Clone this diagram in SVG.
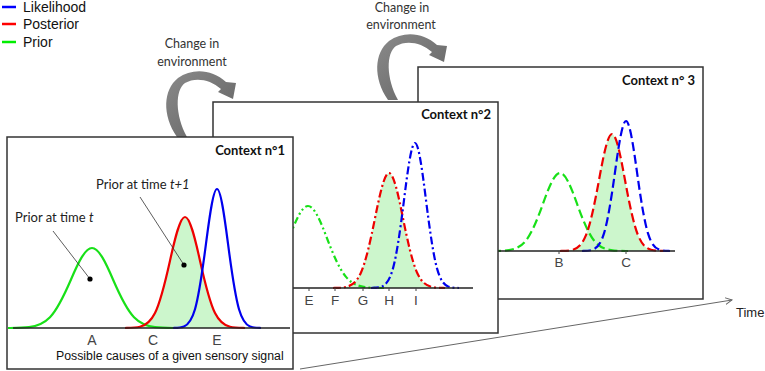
<svg xmlns="http://www.w3.org/2000/svg" xmlns:xlink="http://www.w3.org/1999/xlink" width="765" height="371" viewBox="0 0 765 371">
<style>
.box{fill:#fff;stroke:#333;stroke-width:1.5}
.axis{stroke:#222;stroke-width:1.5;fill:none}
.tick{stroke:#444;stroke-width:1}
.crv{fill:none;stroke-width:2.2;stroke-linejoin:round}
.g{stroke:#18e018}.r{stroke:#ee0000}.b{stroke:#0000ee}
.fl{fill:#ccf6cc;stroke:none}
.dd{stroke-dasharray:7 3 2 3 2 3}
.dr{stroke-dasharray:8 3 2 3}
.ds{stroke-dasharray:9 4}
.ttl{font-family:Lato,"Open Sans",sans-serif;font-weight:bold;font-size:13px;fill:#111;text-anchor:end}
.lbl{font-family:"Liberation Sans",Arial,sans-serif;font-size:13.5px;fill:#444;text-anchor:middle}
.note{font-family:Lato,"Open Sans",sans-serif;font-size:13px;fill:#222}
.chg{font-family:Lato,"Open Sans",sans-serif;font-size:12.5px;fill:#333;text-anchor:middle}
.leg{font-family:"Liberation Sans",Arial,sans-serif;font-size:14px;fill:#111}
.lead{stroke:#333;stroke-width:0.8}
.arw{fill:url(#arwGrad)}
</style>
<defs>
<linearGradient id="arwGrad" x1="0" y1="0" x2="1" y2="1">
<stop offset="0" stop-color="#8a8a8a"/>
<stop offset="1" stop-color="#626262"/>
</linearGradient>
<path id="gauss" vector-effect="non-scaling-stroke" d="M-4,0 C-3.667,0.0008 -3.333,0 -3,0.0111 C-2.667,0.0222 -2.333,0.0451 -2,0.1353 C-1.667,0.2255 -1.333,0.4043 -1,0.6065 C-0.667,0.8087 -0.333,1 0,1 C0.333,1 0.667,0.8087 1,0.6065 C1.333,0.4043 1.667,0.2255 2,0.1353 C2.333,0.0451 2.667,0.0222 3,0.0111 C3.333,0 3.667,0.0008 4,0"/>
<path id="curvedArrow" d="M177,137 C162,115 163,90 178,78 C192,68 212,69 226,82 L236,83 L233,99 L218,92 L221,89 C210,79 195,77 185,83 C175,90 175,115 187,137 Z"/>
<marker id="openHead" markerUnits="userSpaceOnUse" markerWidth="10" markerHeight="10" refX="7" refY="4" orient="auto" viewBox="0 0 10 8">
<path d="M0,0.5 L7,4 L0,7.5" fill="none" stroke="#666" stroke-width="1"/>
</marker>
</defs>

<g id="legend">
<line x1="2" y1="7" x2="16" y2="7" stroke="#0000ff" stroke-width="2.5"/>
<line x1="2" y1="24" x2="16" y2="24" stroke="#ff0000" stroke-width="2.5"/>
<line x1="2" y1="42" x2="16" y2="42" stroke="#00ee00" stroke-width="2.5"/>
<text class="leg" x="23" y="12">Likelihood</text>
<text class="leg" x="23" y="29">Posterior</text>
<text class="leg" x="23" y="47">Prior</text>
</g>

<g id="connectors">
<g id="change1">
<use xlink:href="#curvedArrow" href="#curvedArrow" class="arw"/>
<text class="chg" x="192" y="48">Change in</text>
<text class="chg" x="192" y="66">environment</text>
</g>
<g id="change2">
<use xlink:href="#curvedArrow" href="#curvedArrow" class="arw" transform="translate(211,-37)"/>
<text class="chg" x="402" y="12">Change in</text>
<text class="chg" x="401" y="29">environment</text>
</g>
</g>

<g id="context3">
<rect class="box" x="418" y="67" width="285" height="232"/>
<text class="ttl" x="695" y="85">Context n° 3</text>
<use href="#gauss" xlink:href="#gauss" class="fl" transform="translate(612,251) scale(13,-117)"/>
<use href="#gauss" xlink:href="#gauss" class="crv g ds" transform="translate(560,251) scale(17,-78)"/>
<use href="#gauss" xlink:href="#gauss" class="crv r ds" transform="translate(612,251) scale(13,-117)"/>
<use href="#gauss" xlink:href="#gauss" class="crv b ds" transform="translate(626,251) scale(11,-130)"/>
<line class="axis" x1="440" y1="251" x2="675" y2="251"/>
<line class="tick" x1="559" y1="251" x2="559" y2="254"/>
<line class="tick" x1="626" y1="251" x2="626" y2="254"/>
<text class="lbl" x="559" y="267">B</text>
<text class="lbl" x="626" y="267">C</text>
</g>

<g id="context2">
<rect class="box" x="213" y="102" width="285" height="231"/>
<text class="ttl" x="491" y="119">Context n°2</text>
<use href="#gauss" xlink:href="#gauss" class="fl" transform="translate(389,288) scale(14,-115)"/>
<use href="#gauss" xlink:href="#gauss" class="crv g dd" transform="translate(308,288) scale(19,-82)"/>
<use href="#gauss" xlink:href="#gauss" class="crv r dr" transform="translate(389,288) scale(14,-115)"/>
<use href="#gauss" xlink:href="#gauss" class="crv b dr" transform="translate(415,288) scale(11,-145)"/>
<line class="axis" x1="230" y1="288" x2="473" y2="288"/>
<line class="tick" x1="309" y1="288" x2="309" y2="291"/>
<line class="tick" x1="335" y1="288" x2="335" y2="291"/>
<line class="tick" x1="363" y1="288" x2="363" y2="291"/>
<line class="tick" x1="389" y1="288" x2="389" y2="291"/>
<line class="tick" x1="416" y1="288" x2="416" y2="291"/>
<text class="lbl" x="309" y="305">E</text>
<text class="lbl" x="335" y="305">F</text>
<text class="lbl" x="363" y="305">G</text>
<text class="lbl" x="389" y="305">H</text>
<text class="lbl" x="416" y="305">I</text>
</g>

<g id="context1">
<rect class="box" x="7" y="137" width="286" height="232"/>
<text class="ttl" x="285" y="155">Context n°1</text>
<use href="#gauss" xlink:href="#gauss" class="fl" transform="translate(185,328) scale(15,-111)"/>
<use href="#gauss" xlink:href="#gauss" class="crv g" transform="translate(92,328) scale(21,-80)"/>
<use href="#gauss" xlink:href="#gauss" class="crv r" transform="translate(185,328) scale(15,-111)"/>
<use href="#gauss" xlink:href="#gauss" class="crv b" transform="translate(217,328) scale(11,-139)"/>
<line class="axis" x1="13" y1="328" x2="290" y2="328"/>
<text class="lbl" x="92" y="345" style="font-size:14px">A</text>
<text class="lbl" x="153" y="345" style="font-size:14px">C</text>
<text class="lbl" x="217" y="345" style="font-size:14px">E</text>
<text class="leg" x="56" y="360" style="font-size:12.3px">Possible causes of a given sensory signal</text>
<line class="lead" x1="53" y1="231" x2="90" y2="279"/>
<line class="lead" x1="140" y1="197" x2="184" y2="265"/>
<circle cx="90" cy="279" r="2.6" fill="#000"/>
<circle cx="184" cy="265" r="2.6" fill="#000"/>
<text class="note" x="15" y="222">Prior at time <tspan font-style="italic">t</tspan></text>
<text class="note" x="96" y="189">Prior at time <tspan font-style="italic">t+1</tspan></text>
</g>

<g id="time-axis">
<line x1="300" y1="369" x2="732" y2="300" stroke="#666" stroke-width="1" marker-end="url(#openHead)"/>
<text x="736" y="317" font-family="Liberation Sans, Arial, sans-serif" font-size="13" fill="#222">Time</text>
</g>
</svg>
